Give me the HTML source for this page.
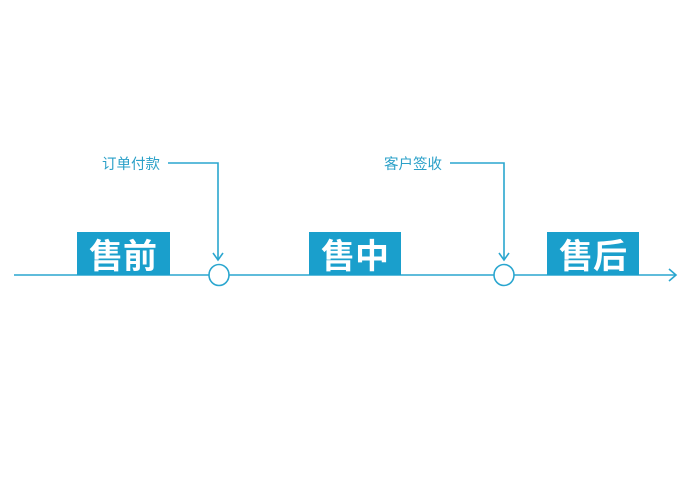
<!DOCTYPE html>
<html><head><meta charset="utf-8"><style>
html,body{margin:0;padding:0;background:#fff;}
</style></head><body>
<svg width="688" height="502" viewBox="0 0 688 502" xmlns="http://www.w3.org/2000/svg" style="display:block">
<g stroke="#2aa6cf" stroke-width="1.6" fill="none">
<line x1="14" y1="275" x2="676" y2="275"/>
<polyline points="669,269 676,275 669,281"/>
<polyline points="168,163 218,163 218,260"/>
<polyline points="213,253 218,260 223,253"/>
<polyline points="450,163 504,163 504,260"/>
<polyline points="499,253 504,260 509,253"/>
</g>
<rect x="77" y="232" width="93" height="43" fill="#1a9fcc"/>
<rect x="309" y="232" width="92" height="43" fill="#1a9fcc"/>
<rect x="547" y="232" width="92" height="43" fill="#1a9fcc"/>
<ellipse cx="219" cy="275" rx="10" ry="10.5" fill="#fff" stroke="#2aa6cf" stroke-width="1.6"/>
<ellipse cx="504" cy="275" rx="10" ry="10.5" fill="#fff" stroke="#2aa6cf" stroke-width="1.6"/>
<g font-family="Liberation Sans, Noto Sans CJK SC, sans-serif" fill="#fff" font-size="34" font-weight="bold" text-anchor="middle">
<text x="123" y="268">售前</text>
<text x="355" y="268">售中</text>
<text x="593" y="268">售后</text>
</g>
<g font-family="Liberation Sans, Noto Sans CJK SC, sans-serif" fill="#2aa0c8" font-size="14.5" text-anchor="middle">
<text x="131" y="169">订单付款</text>
<text x="413" y="169">客户签收</text>
</g>
</svg>
</body></html>
